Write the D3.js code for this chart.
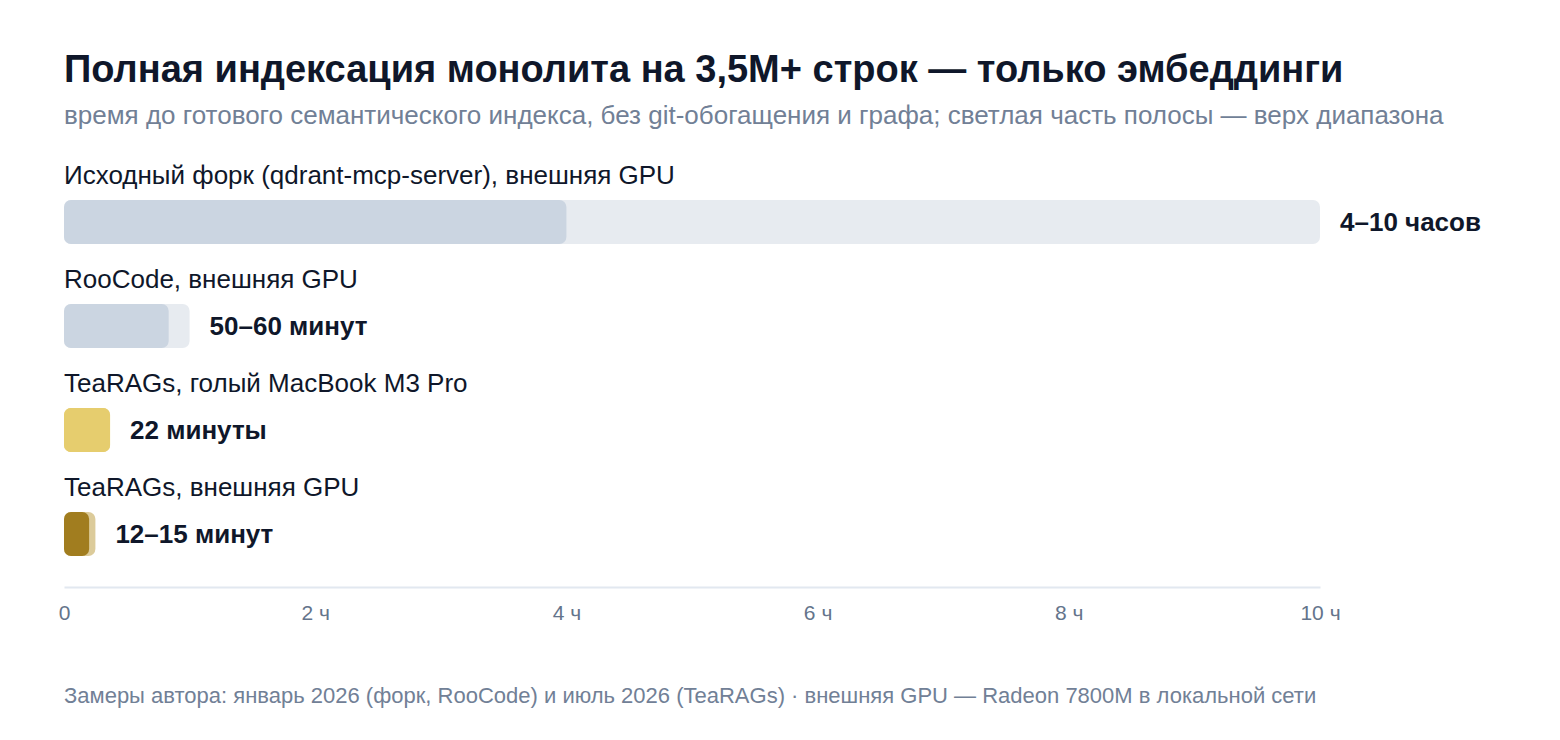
<!DOCTYPE html>
<html>
<head>
<meta charset="utf-8">
<title></title>
<style type="text/css">
	body{
		margin: 0;
		background-color: #ffffff;
		font-family: "Liberation Sans", Arial, sans-serif;
	}
	#chart text{
		font-family: "Liberation Sans", Arial, sans-serif;
	}
</style>
</head>
<body>
	<svg id="chart" width="1560" height="740"></svg>

<script src="https://cdn.jsdelivr.net/npm/d3@7/dist/d3.min.js"></script>
<script type="text/javascript">
	// rows, top to bottom
	let categories = [
		"Исходный форк (qdrant-mcp-server), внешняя GPU",
		"RooCode, внешняя GPU",
		"TeaRAGs, голый MacBook M3 Pro",
		"TeaRAGs, внешняя GPU"
	]
	// hours: low end and high end of each range
	let lowHours = [4, 50 / 60, 22 / 60, 12 / 60]
	let highHours = [10, 60 / 60, 22 / 60, 15 / 60]
	let valueLabels = ["4–10 часов", "50–60 минут", "22 минуты", "12–15 минут"]
	let darkColors = ["#cbd5e1", "#cbd5e1", "#e6cd6e", "#a17d1f"]
	let lightColors = ["#e7ebf0", "#e7ebf0", "#e6cd6e", "#dccb9a"]
	let tickValues = [0, 2, 4, 6, 8, 10]

	let svg = d3.select("#chart")

	let x = d3.scaleLinear().domain([0, 10]).range([64, 1320])
	let rowTop = d3.scaleBand().domain(categories).range([200, 616]).paddingInner(0).paddingOuter(0)
	let barH = 44

	svg.append("text").text("Полная индексация монолита на 3,5M+ строк — только эмбеддинги")
		.attr("x", 64).attr("y", 82)
		.attr("font-size", "38px").attr("font-weight", "bold").attr("fill", "#0f172a")

	svg.append("text").text("время до готового семантического индекса, без git-обогащения и графа; светлая часть полосы — верх диапазона")
		.attr("x", 64).attr("y", 124)
		.attr("font-size", "26px").attr("fill", "#718096")

	let rows = svg.selectAll("g.row")
		.data(categories)
		.enter()
		.append("g")
		.attr("class", "row")

	rows.append("text").text(d => d)
		.attr("x", 64).attr("y", d => rowTop(d) - 16)
		.attr("font-size", "26px").attr("fill", "#0f172a")

	rows.append("rect")
		.attr("x", x(0))
		.attr("y", d => rowTop(d))
		.attr("width", (d, i) => x(highHours[i]) - x(0))
		.attr("height", barH)
		.attr("rx", 7)
		.attr("fill", (d, i) => lightColors[i])

	rows.append("rect")
		.attr("x", x(0))
		.attr("y", d => rowTop(d))
		.attr("width", (d, i) => x(lowHours[i]) - x(0))
		.attr("height", barH)
		.attr("rx", 7)
		.attr("fill", (d, i) => darkColors[i])

	rows.append("text").text((d, i) => valueLabels[i])
		.attr("x", (d, i) => x(highHours[i]) + 20)
		.attr("y", d => rowTop(d) + barH / 2)
		.attr("dy", "0.36em")
		.attr("font-size", "26px").attr("font-weight", "bold").attr("fill", "#0f172a")

	let xAxis = d3.axisBottom(x)
		.tickValues(tickValues)
		.tickSize(0)
		.tickPadding(18)
		.tickFormat(d => d == 0 ? "0" : d + " ч")

	let axisG = svg.append("g")
		.attr("transform", "translate(0, 587)")
		.call(xAxis)
	axisG.select(".domain").attr("stroke", "#e2e8f0").attr("stroke-width", 2)
	axisG.selectAll("text").attr("font-size", "21px").attr("fill", "#64748b")
		.attr("font-family", "Liberation Sans, Arial, sans-serif")

	svg.append("text").text("Замеры автора: январь 2026 (форк, RooCode) и июль 2026 (TeaRAGs) · внешняя GPU — Radeon 7800M в локальной сети")
		.attr("x", 64).attr("y", 703)
		.attr("font-size", "22px").attr("fill", "#718096")
</script>
</body>
</html>
